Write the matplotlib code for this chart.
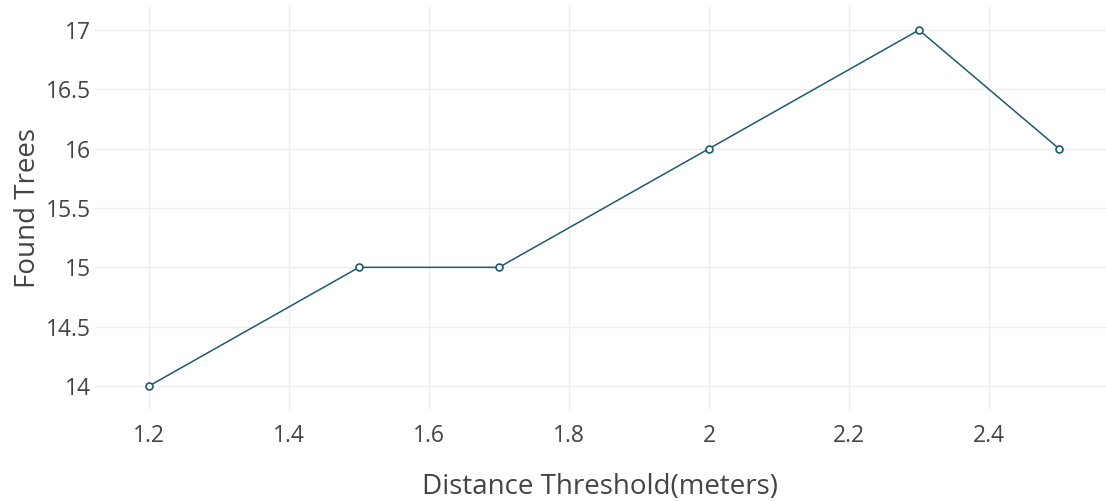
import matplotlib.pyplot as plt
import numpy as np

# data
distance = [1.2, 1.5, 1.7, 2.0, 2.3, 2.5]
found_trees = [14, 15, 15, 16, 17, 16]
x_ticks = [1.2, 1.4, 1.6, 1.8, 2.0, 2.2, 2.4]
x_labels = ['1.2', '1.4', '1.6', '1.8', '2', '2.2', '2.4']
y_ticks = [14, 14.5, 15, 15.5, 16, 16.5, 17]
y_labels = ['14', '14.5', '15', '15.5', '16', '16.5', '17']

W, H = 1106, 501
plt.rcParams['font.family'] = ['Open Sans', 'DejaVu Sans']

fig = plt.figure(figsize=(W / 100, H / 100), dpi=100)
# plot area in pixels: left 95, right 1106, top 6, bottom 410
left, right, top, bottom = 95, 1106, 6, 410
ax = fig.add_axes([left / W, 1 - bottom / H, (right - left) / W, (bottom - top) / H])

line_col = '#1d5a6c'
ax.plot(distance, found_trees, color=line_col, lw=1.1, marker='o', ms=5,
        mfc='white', mec=line_col, mew=1.2, zorder=3)

# axis limits so the data sit where they do in the reference
px_per_x = (1059 - 149) / (2.5 - 1.2)
ax.set_xlim(1.2 - (149 - left) / px_per_x, 2.5 + (right - 1059) / px_per_x)
px_per_y = (386 - 30) / (17 - 14)
ax.set_ylim(14 - (bottom - 386) / px_per_y, 17 + (30 - top) / px_per_y)

ax.set_xticks(x_ticks)
ax.set_xticklabels(x_labels)
ax.set_yticks(y_ticks)
ax.set_yticklabels(y_labels)
ax.tick_params(length=0, labelsize=16.5, colors='#444444')
ax.tick_params(axis='x', pad=10)
ax.tick_params(axis='y', pad=3)
ax.grid(color='#eeeeee', lw=1)
ax.set_axisbelow(True)
for s in ax.spines.values():
    s.set_visible(False)

ax.set_xlabel('Distance Threshold(meters)', fontsize=20, color='#444444', labelpad=18)
ax.set_ylabel('Found Trees', fontsize=20, color='#444444', labelpad=3)

fig.savefig('out.png', dpi=100)
